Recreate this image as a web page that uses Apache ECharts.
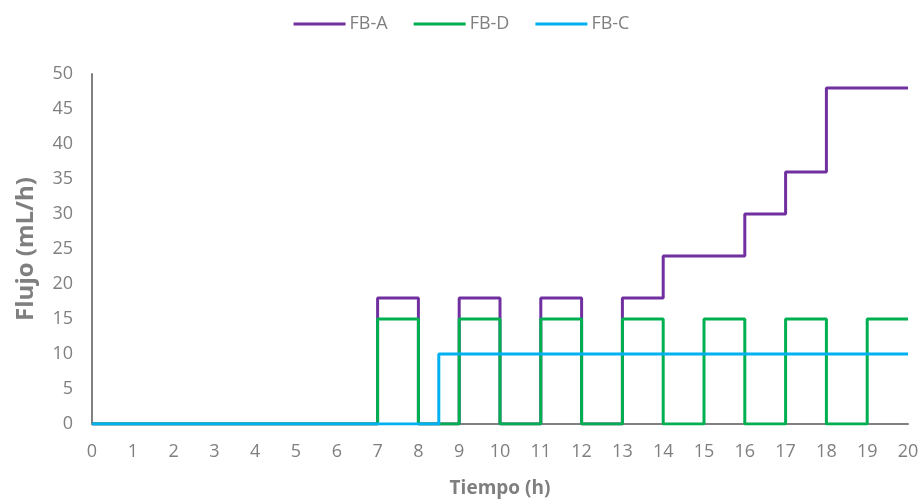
<!DOCTYPE html>
<html>
<head>
<meta charset="utf-8">
<script src="https://cdn.jsdelivr.net/npm/echarts@6/dist/echarts.min.js"></script>
<style>
  html, body { margin: 0; padding: 0; background: #fff; }
  #chart { width: 923px; height: 503px; }
</style>
</head>
<body>
<div id="chart"></div>
<script>
// Step profiles: each value holds from its time until the next time
const timesA = [0, 7, 8, 9, 10, 11, 12, 13, 14, 16, 17, 18, 20];
const flowA  = [0, 18, 0, 18, 0, 18, 0, 18, 24, 30, 36, 48, 48];

const timesD = [0, 7, 8, 9, 10, 11, 12, 13, 14, 15, 16, 17, 18, 19, 20];
const flowD  = [0, 15, 0, 15, 0, 15, 0, 15, 0, 15, 0, 15, 0, 15, 15];

const timesC = [0, 8.5, 20];
const flowC  = [0, 10, 10];

const seriesNames = ['FB-A', 'FB-D', 'FB-C'];
const xTicks = [0, 20, 1];
const yTicks = [0, 50, 5];

const pairs = (t, v) => t.map((x, i) => [x, v[i]]);
const gray = '#7f7f7f';
const fontFam = '"Open Sans", "Noto Sans", sans-serif';

const chart = echarts.init(document.getElementById('chart'));
chart.setOption({
  animation: false,
  color: ['#7030A0', '#00B050', '#00B0F0'],
  legend: {
    top: 10,
    left: 'center',
    itemWidth: 52,
    itemHeight: 3,
    itemGap: 26,
    icon: 'rect',
    textStyle: { color: gray, fontSize: 18, fontFamily: fontFam, padding: [0, 0, 0, -1] },
    data: seriesNames
  },
  grid: { left: 92, right: 15, top: 74, bottom: 78, containLabel: false },
  xAxis: {
    type: 'value',
    min: xTicks[0], max: xTicks[1], interval: xTicks[2],
    name: 'Tiempo (h)',
    nameLocation: 'middle',
    nameGap: 55,
    nameTextStyle: { color: gray, fontSize: 19, fontWeight: 'bold', fontFamily: fontFam },
    axisLine: { show: true, lineStyle: { color: '#808080', width: 2 } },
    axisTick: { show: false },
    splitLine: { show: false },
    axisLabel: { color: gray, fontSize: 18, margin: 19, fontFamily: fontFam }
  },
  yAxis: {
    type: 'value',
    min: yTicks[0], max: yTicks[1], interval: yTicks[2],
    name: 'Flujo (mL/h)',
    nameLocation: 'middle',
    nameGap: 54,
    nameTextStyle: { color: gray, fontSize: 24, fontWeight: 'bold', fontFamily: fontFam },
    axisLine: { show: true, lineStyle: { color: '#808080', width: 2 } },
    axisTick: { show: false },
    splitLine: { show: false },
    axisLabel: { color: gray, fontSize: 18, margin: 19, fontFamily: fontFam }
  },
  series: [
    { name: seriesNames[0], type: 'line', step: 'end', data: pairs(timesA, flowA), showSymbol: false, lineStyle: { width: 3 }, z: 2 },
    { name: seriesNames[1], type: 'line', step: 'end', data: pairs(timesD, flowD), showSymbol: false, lineStyle: { width: 3 }, z: 3 },
    { name: seriesNames[2], type: 'line', step: 'end', data: pairs(timesC, flowC), showSymbol: false, lineStyle: { width: 3 }, z: 4 }
  ]
});
</script>
</body>
</html>
